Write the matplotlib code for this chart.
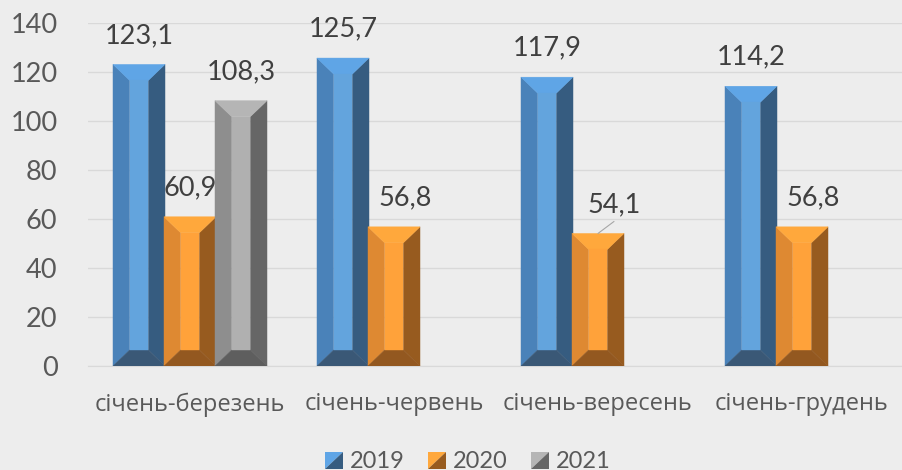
import matplotlib
matplotlib.use("Agg")
import matplotlib.pyplot as plt
from matplotlib.patches import Polygon
from matplotlib.legend_handler import HandlerBase
import numpy as np

categories = ["січень-березень", "січень-червень", "січень-вересень", "січень-грудень"]
series_names = ["2019", "2020", "2021"]
v2019 = [123.1, 125.7, 117.9, 114.2]
v2020 = [60.9, 56.8, 54.1, 56.8]
v2021 = [108.3, None, None, None]
values = [v2019, v2020, v2021]

# face colours: left, centre, right, top, bottom
palettes = [
    dict(left="#4A82B9", center="#63A4DD", right="#365C80", top="#5FA5E6", bottom="#3A5876"),
    dict(left="#DE8932", center="#FFA23A", right="#975B1F", top="#FFA83C", bottom="#935820"),
    dict(left="#8E8E8E", center="#B0B0B0", right="#666666", top="#B5B5B5", bottom="#5E5E5E"),
]
# label shifts (px) for moved data labels
label_dx = [[0, 0, 0, 0], [0, 11, 16, 11], [0, 0, 0, 0]]

TXT = "#595959"
LBL = "#404040"
PT = 0.72  # points per pixel at 100 dpi
plt.rcParams["font.family"] = ["Lato", "Open Sans", "DejaVu Sans"]

fig = plt.figure(figsize=(9.02, 4.70), dpi=100, facecolor="#EDEDED")
ax = fig.add_axes([88 / 902, (470 - 366) / 470, 816 / 902, 343 / 470])
ax.set_facecolor("#EDEDED")
ax.set_xlim(-0.5, 3.5)
ax.set_ylim(0, 140)
ax.set_yticks(np.arange(0, 141, 20))
ax.grid(axis="y", color="#D9D9D9", lw=1)
ax.set_axisbelow(True)
for s in ["top", "right", "left"]:
    ax.spines[s].set_visible(False)
ax.spines["bottom"].set_color("#D9D9D9")
ax.tick_params(axis="y", length=0, labelsize=19.5, labelcolor=TXT, pad=22)
ax.tick_params(axis="x", length=0, labelcolor=TXT, pad=19)
ax.set_xticks(range(len(categories)))
ax.set_xticklabels(categories, fontfamily="Open Sans", fontsize=17)

width = 0.255
px_per_y = 343 / 140
bev_y = 16 / px_per_y
bev_x = width * 0.32

for si, vals in enumerate(values):
    p = palettes[si]
    for ci, v in enumerate(vals):
        if v is None:
            continue
        xc = ci + (si - 1) * 0.25
        x0 = xc - width / 2
        x1 = xc + width / 2
        xi0, xi1 = x0 + bev_x, x1 - bev_x
        yi0, yi1 = bev_y, v - bev_y
        faces = [
            ([(x0, 0), (xi0, yi0), (xi0, yi1), (x0, v)], p["left"]),
            ([(x1, 0), (xi1, yi0), (xi1, yi1), (x1, v)], p["right"]),
            ([(x0, v), (x1, v), (xi1, yi1), (xi0, yi1)], p["top"]),
            ([(x0, 0), (x1, 0), (xi1, yi0), (xi0, yi0)], p["bottom"]),
            ([(xi0, yi0), (xi1, yi0), (xi1, yi1), (xi0, yi1)], p["center"]),
        ]
        for pts, col in faces:
            ax.add_patch(Polygon(pts, closed=True, facecolor=col, edgecolor=col, lw=0.3, zorder=3))
        dx = label_dx[si][ci]
        ax.annotate(f"{v:.1f}".replace(".", ","), xy=(xc, v), xytext=(dx * PT, 29 * PT),
                    textcoords="offset points", ha="center", va="center", fontsize=19.5, color=LBL, zorder=5)
        if dx > 12:
            ax.annotate("", xy=(xc, v), xytext=(16 * PT, 12 * PT),
                        textcoords="offset points",
                        arrowprops=dict(arrowstyle="-", color="#A6A6A6", lw=0.8, shrinkA=0, shrinkB=0))


class BevelHandler(HandlerBase):
    def __init__(self, pal):
        super().__init__()
        self.pal = pal

    def create_artists(self, legend, orig_handle, xdescent, ydescent, width, height, fontsize, trans):
        s = width
        x0 = -xdescent
        y0 = -ydescent + (height - s) / 2 - 1
        t1 = Polygon([(x0, y0), (x0, y0 + s), (x0 + s, y0 + s)], closed=True,
                     facecolor=self.pal["top"], edgecolor="none", transform=trans)
        t2 = Polygon([(x0, y0), (x0 + s, y0), (x0 + s, y0 + s)], closed=True,
                     facecolor=self.pal["right"], edgecolor="none", transform=trans)
        return [t1, t2]


handles = [plt.Rectangle((0, 0), 1, 1) for _ in series_names]
hmap = {h: BevelHandler(palettes[i]) for i, h in enumerate(handles)}
leg = fig.legend(handles, series_names, handler_map=hmap, loc="center", bbox_to_anchor=(468 / 902, 1 - 461 / 470),
                 ncol=3, frameon=False, fontsize=17, labelcolor=TXT, handlelength=0.75, handletextpad=0.3,
                 columnspacing=1.0)

fig.savefig("out.png", dpi=100, facecolor=fig.get_facecolor())
